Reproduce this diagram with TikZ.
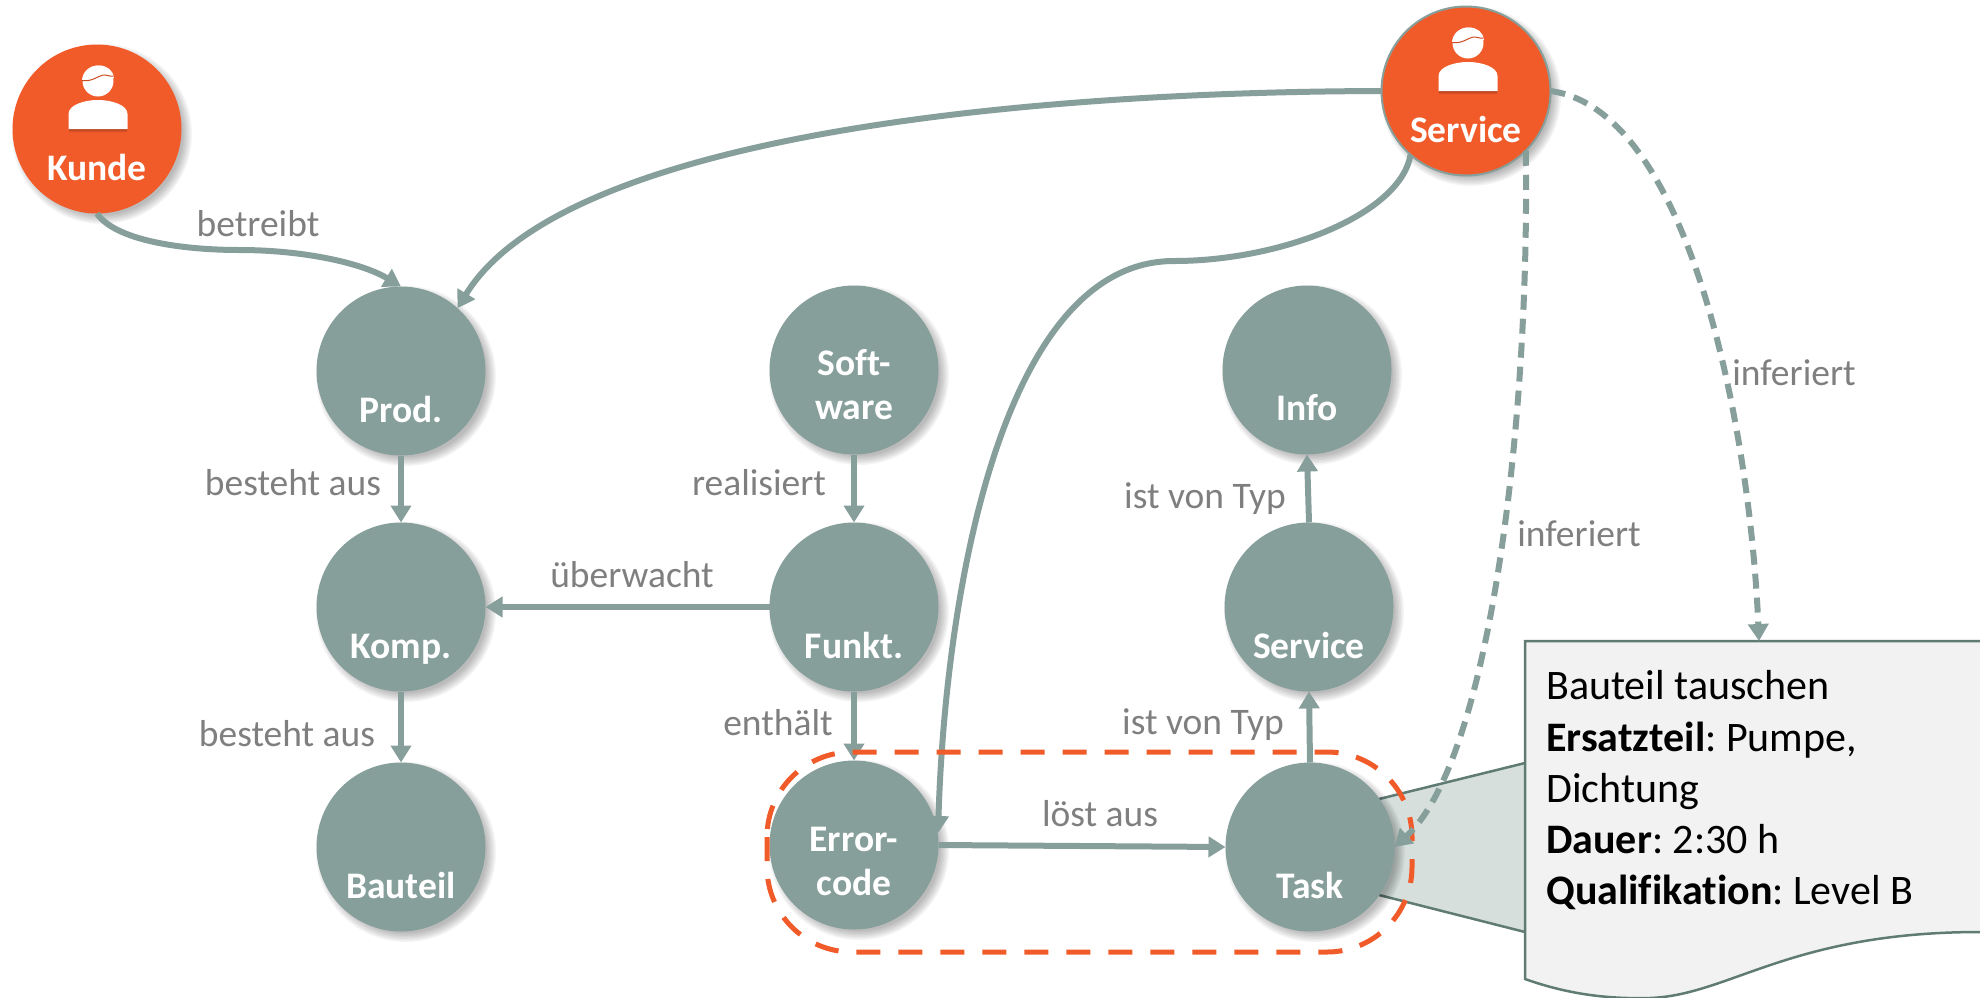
\documentclass[tikz,border=0pt]{standalone}
\usepackage{fontspec}
\setmainfont[Ligatures=NoCommon]{Carlito}
\frenchspacing
\usetikzlibrary{arrows.meta,calc}
\definecolor{sage}{HTML}{879F9B}
\definecolor{flame}{HTML}{F15A29}
\definecolor{lbl}{HTML}{7F7F7F}
\definecolor{wedge}{HTML}{D6DFDC}
\definecolor{edgeline}{HTML}{5F7B73}
\definecolor{paper}{HTML}{F2F2F2}
\tikzset{
  roundel/.style={circle,minimum size=169pt,inner sep=0pt,outer sep=0pt},
  gnode/.style={roundel,fill=sage},
  onode/.style={roundel,fill=flame},
  ntext/.style={anchor=base,text=white,font=\fontsize{37.5}{44}\selectfont\bfseries,inner sep=0pt},
  elabel/.style={anchor=base,text=lbl,font=\fontsize{37.5}{45}\selectfont,inner sep=0pt},
  link/.style={draw=sage,line width=6pt,-{Triangle[length=17pt,width=20pt]}},
  dlink/.style={link,dash pattern=on 15pt off 9pt},
}
\newcommand{\softshadow}[2]{%
  \foreach \rr in {90,88.5,87,85.5,84,82.5,81}{
    \fill[black,opacity=.045] (#1+5,#2+5) circle[radius=\rr pt];
  }}
\newcommand{\personicon}[2]{%
  \begin{scope}[shift={(#1,#2)}]
    \foreach \dd in {1,2,3}{
    \fill[black,opacity=.09] (-29,33+\dd) .. controls (-29,24+\dd) and (-14,19+\dd) .. (0,19+\dd) .. controls (14,19+\dd) and (29,24+\dd) .. (29,33+\dd) -- (29,48+\dd) -- (-29,48+\dd) -- cycle;}
    \fill[white] (-29.5,33) .. controls (-29.5,24) and (-14,19) .. (0,19) .. controls (14,19) and (29.5,24) .. (29.5,33) -- (29.5,48) -- (-29.5,48) -- cycle;
    \fill[white] (0,0) circle[radius=15.5pt];
    \fill[white] (-16,-1) .. controls (-15,-11) and (-7,-15.5) .. (1,-15.5) .. controls (9,-15.5) and (15,-11) .. (16,-3) -- cycle;
    \draw[flame!85!black,line width=1pt] (-16,-0.5) .. controls (-6,1) and (0,-5) .. (5,-6) .. controls (9,-6.5) and (12,-4) .. (15.5,-5);
  \end{scope}}
\begin{document}
\begin{tikzpicture}[x=1pt,y=-1pt]
\useasboundingbox (0,0) rectangle (1980,997);
\clip (0,0) rectangle (1980,997);
% callout
\coordinate (wa) at (1379,799);
\coordinate (wb) at (1525,763);
\coordinate (wc) at (1525,932);
\coordinate (wd) at (1379,895);
\fill[wedge] (wa) -- (wb) -- (wc) -- (wd) -- cycle;
\draw[edgeline,line width=2.5pt] (wa) -- (wb) (wc) -- (wd);
\coordinate (boxtip) at (1759,641);
\coordinate (errtip) at (938,833);
\coordinate (kmid) at (240,250);
\coordinate (smid) at (1174,261);
\draw[edgeline,line width=2.5pt,fill=paper] (1525,641) -- (2000,641) -- (2000,932) -- (1980,932) .. controls (1790,932) and (1730,995) .. (1650,998) .. controls (1610,999) and (1570,995) .. (1525,979) -- cycle;
\node[anchor=north west,inner sep=0pt,align=left,font=\fontsize{42}{51.2}\selectfont] (boxtext) at (1546,670.5) {Bauteil tauschen\\\textbf{Ersatzteil}: Pumpe,\\Dichtung\\\textbf{Dauer}: 2:30 h\\\textbf{Qualifikation}: Level B};
% shadows
\softshadow{97}{129}
\softshadow{1466}{91}
\softshadow{401}{371}
\softshadow{854}{370}
\softshadow{1307}{370}
\softshadow{401}{607}
\softshadow{854}{607}
\softshadow{1309}{607}
\softshadow{401}{847}
\softshadow{854}{845}
\softshadow{1310}{847}
% circles
\node[onode] (kunde) at (97,129) {};
\node[onode,draw=sage,line width=2pt] (serviceA) at (1466,91) {};
\node[gnode] (prod) at (401,371) {};
\node[gnode] (soft) at (854,370) {};
\node[gnode] (info) at (1307,370) {};
\node[gnode] (komp) at (401,607) {};
\node[gnode] (funkt) at (854,607) {};
\node[gnode] (serviceB) at (1309,607) {};
\node[gnode] (bauteil) at (401,847) {};
\node[gnode] (error) at (854,845) {};
\node[gnode] (task) at (1310,847) {};
\personicon{98}{81}
\personicon{1468}{43}
% node texts
\node[ntext] (tkunde) at (97,180) {Kunde};
\node[ntext] (tservice) at (1466,142) {Service};
\node[ntext] (tprod) at (401,422) {Prod.};
\node[ntext] (tsofta) at (854,375) {Soft-};
\node[ntext] (tsoftb) at (854,419) {ware};
\node[ntext] (tinfo) at (1307,420) {Info};
\node[ntext] (tkomp) at (401,658) {Komp.};
\node[ntext] (tfunkt) at (854,658) {Funkt.};
\node[ntext] (tserviceb) at (1309,658) {Service};
\node[ntext] (tbauteil) at (401,898) {Bauteil};
\node[ntext] (terrora) at (854,851.5) {Error-};
\node[ntext] (terrorb) at (854,895.5) {code};
\node[ntext] (ttask) at (1310,898) {Task};
% connectors
\draw[link] (kunde.south) .. controls (115,240) and (180,250) .. (kmid) .. controls (300,250) and (360,262) .. (prod.north);
\draw[link] (serviceA.west) .. controls (1000,92) and (560,140) .. (prod.48);
\draw[link] (serviceA.229) .. controls (1400,215) and (1280,261) .. (smid) .. controls (1000,261) and (945,600) .. (errtip);
\draw[link] (prod.south) -- (komp.north);
\draw[link] (soft.south) -- (funkt.north);
\draw[link] (funkt.west) -- (komp.east);
\draw[link] (komp.south) -- (bauteil.north);
\draw[link] (funkt.south) -- (error.north);
\draw[link] (serviceB.north) -- (info.south);
\draw[link] (task.north) -- (serviceB.south);
\draw[link] (error.east) -- (task.west);
\draw[dlink] (serviceA.east) .. controls (1690,110) and (1750,430) .. (boxtip);
% highlight
\draw[flame,line width=5pt,dash pattern=on 24pt off 18pt,rounded corners=85pt] (767,752) rectangle (1412,952);
\draw[dlink] (serviceA.315) .. controls (1530,420) and (1490,760) .. (task.east);
% labels
\node[elabel] (l1) at (258,236) {betreibt};
\node[elabel] (l2) at (293,495) {besteht aus};
\node[elabel] (l3) at (759,495) {realisiert};
\node[elabel] (l4) at (632,587) {überwacht};
\node[elabel] (l5) at (287,746) {besteht aus};
\node[elabel] (l6) at (778,735) {enthält};
\node[elabel] (l7) at (1205,508) {ist von Typ};
\node[elabel] (l8) at (1203,734) {ist von Typ};
\node[elabel] (l9) at (1100,826) {löst aus};
\node[elabel] (l10) at (1794,385) {inferiert};
\node[elabel] (l11) at (1579,546) {inferiert};
\end{tikzpicture}
\end{document}
